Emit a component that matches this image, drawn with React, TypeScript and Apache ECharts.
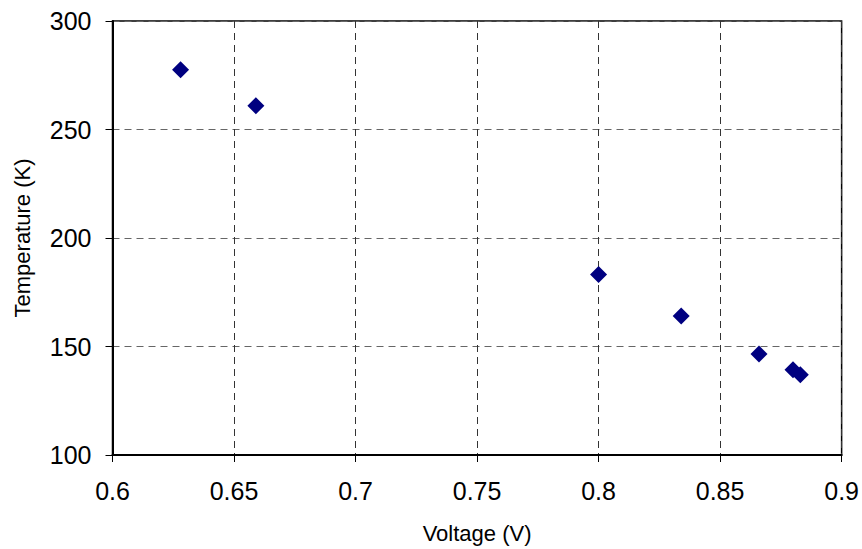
import React, { useEffect, useRef } from "react";
import * as echarts from "echarts";

const voltage = [0.628, 0.659, 0.8, 0.834, 0.866, 0.88, 0.883];
const temperature = [277.5, 261, 183.2, 164, 146.5, 139.3, 137];
const xTicks = [0.6, 0.65, 0.7, 0.75, 0.8, 0.85, 0.9];

export default function App() {
  const ref = useRef<HTMLDivElement>(null);
  useEffect(() => {
    const chart = echarts.init(ref.current!, undefined, { renderer: "svg" });
    const font = "Liberation Sans, Arial, sans-serif";
    chart.setOption({
      animation: false,
      backgroundColor: "#ffffff",
      grid: {
        left: 112.5,
        right: 18,
        top: 21,
        bottom: 92,
        show: true,
        borderColor: "#000",
        borderWidth: 1.5,
        backgroundColor: "transparent",
      },
      xAxis: {
        type: "value",
        min: 0.6,
        max: 0.9,
        interval: 0.05,
        name: "Voltage (V)",
        nameLocation: "middle",
        nameGap: 67,
        nameTextStyle: { fontFamily: font, fontSize: 22, color: "#000" },
        axisLine: { show: true, lineStyle: { color: "#000", width: 2 } },
        axisTick: { show: true, inside: false, length: 7, lineStyle: { color: "#000", width: 1 } },
        axisLabel: {
          fontFamily: font,
          fontSize: 25,
          color: "#000",
          margin: 23,
          formatter: (v: number) => {
            const t = xTicks.find((x) => Math.abs(x - v) < 1e-6);
            return t === undefined ? "" : String(Number(t.toFixed(2)));
          },
        },
        splitLine: { show: true, lineStyle: { color: "#333", type: [7, 5], width: 1 } },
      },
      yAxis: {
        type: "value",
        min: 100,
        max: 300,
        interval: 50,
        name: "Temperature (K)",
        nameLocation: "middle",
        nameGap: 79,
        nameTextStyle: { fontFamily: font, fontSize: 22, color: "#000" },
        axisLine: { show: true, lineStyle: { color: "#000", width: 2 } },
        axisTick: { show: true, inside: false, length: 7, lineStyle: { color: "#000", width: 1 } },
        axisLabel: { fontFamily: font, fontSize: 25, color: "#000", margin: 21 },
        splitLine: { show: true, lineStyle: { color: "#666", type: [7, 5], width: 1 } },
      },
      series: [
        {
          type: "scatter",
          data: voltage.map((v, i) => [v, temperature[i]]),
          symbol: "diamond",
          symbolSize: [17, 17],
          itemStyle: { color: "#000080", opacity: 1 },
        },
      ],
    });
    return () => chart.dispose();
  }, []);
  return (
    <div
      ref={ref}
      style={{ position: "absolute", left: 0, top: 0, width: 862, height: 549 }}
    />
  );
}
